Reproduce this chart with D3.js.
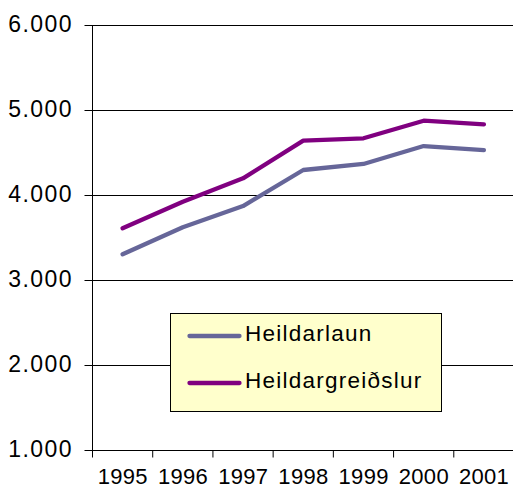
<!DOCTYPE html>
<html>
<head>
<meta charset="utf-8">
<script src="https://cdn.jsdelivr.net/npm/d3@7"></script>
<style>
  body { margin: 0; background: #fff; }
  text { font-family: "Liberation Sans", Arial, sans-serif; fill: #000; }
</style>
</head>
<body>
<script>
// chart data
var years = ["1995", "1996", "1997", "1998", "1999", "2000", "2001"];
var heildarlaun = [3308, 3626, 3876, 4300, 4371, 4582, 4535];
var heildargreidslur = [3614, 3927, 4202, 4645, 4673, 4880, 4837];
var yTicks = [1000, 2000, 3000, 4000, 5000, 6000];
var seriesNames = ["Heildarlaun", "Heildargreiðslur"];
var seriesColors = ["#666699", "#800080"];

var margin = {top: 25.5, right: -1, bottom: 38.5, left: 92.5},
    width = 513 - margin.left - margin.right,
    height = 489 - margin.top - margin.bottom;

var x = d3.scaleBand()
    .domain(years)
    .range([0, width]);

var y = d3.scaleLinear()
    .domain([1000, 6000])
    .range([height, 0]);

var fmt = function(d) { return d3.format(",")(d).replace(",", "."); };

var svg = d3.select("body").append("svg")
    .attr("width", 513)
    .attr("height", 489);

var group = svg.append("g")
    .attr("transform", "translate(" + margin.left + "," + margin.top + ")");

// gridlines + y ticks
group.selectAll(".grid")
    .data(yTicks)
    .enter().append("line")
    .attr("x1", -8)
    .attr("x2", width)
    .attr("y1", d => y(d))
    .attr("y2", d => y(d))
    .style("stroke", "#000")
    .style("stroke-width", 1);

group.selectAll(".ylab")
    .data(yTicks)
    .enter().append("text")
    .attr("x", -19.6)
    .attr("y", d => y(d) + 6)
    .attr("text-anchor", "end")
    .style("font-size", "23px")
    .style("letter-spacing", "1.4px")
    .text(fmt);

// y axis line
group.append("line")
    .attr("x1", 0).attr("x2", 0)
    .attr("y1", 0).attr("y2", height)
    .style("stroke", "#000");

// x tick marks at category boundaries
group.selectAll(".xtick")
    .data(years)
    .enter().append("line")
    .attr("x1", d => x(d))
    .attr("x2", d => x(d))
    .attr("y1", height)
    .attr("y2", height + 7)
    .style("stroke", "#000");

group.selectAll(".xlab")
    .data(years)
    .enter().append("text")
    .attr("x", d => x(d) + x.bandwidth() / 2 + 0.2)
    .attr("y", height + 33.5)
    .attr("text-anchor", "middle")
    .style("font-size", "22px")
    .style("letter-spacing", "0.3px")
    .text(d => d);

// lines
var line = d3.line()
    .x((d, i) => x(years[i]) + x.bandwidth() / 2)
    .y(d => y(d));

[heildarlaun, heildargreidslur].forEach(function(vals, i) {
    group.append("path")
        .datum(vals)
        .attr("d", line)
        .style("fill", "none")
        .style("stroke", seriesColors[i])
        .style("stroke-width", 4.3)
        .style("stroke-linejoin", "round")
        .style("stroke-linecap", "round");
});

// legend
var legend = svg.append("g")
    .attr("transform", "translate(170.5,313.5)");

legend.append("rect")
    .attr("width", 271)
    .attr("height", 98)
    .style("fill", "#FFFFCC")
    .style("stroke", "#000")
    .style("stroke-width", 1);

seriesNames.forEach(function(name, i) {
    var ly = 22.5 + i * 47;
    legend.append("line")
        .attr("x1", 19).attr("x2", 69)
        .attr("y1", ly).attr("y2", ly)
        .style("stroke", seriesColors[i])
        .style("stroke-width", 4.3)
        .style("stroke-linecap", "round");
    legend.append("text")
        .attr("x", 74.5)
        .attr("y", ly + 5)
        .style("font-size", "22.5px")
        .style("letter-spacing", "1.25px")
        .text(name);
});
</script>
</body>
</html>
